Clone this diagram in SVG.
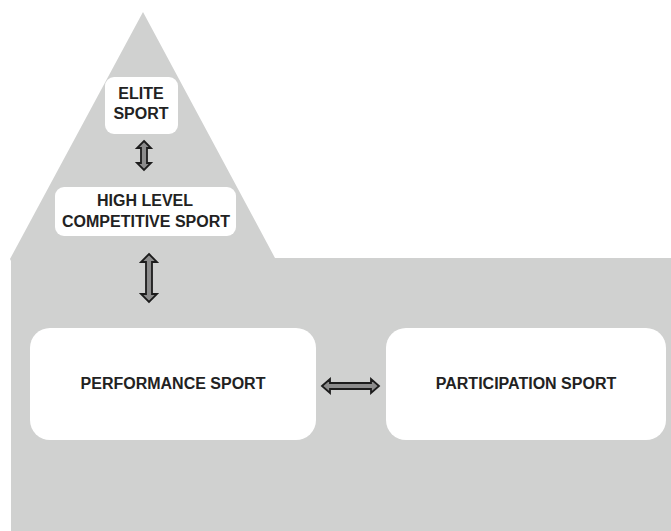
<svg xmlns="http://www.w3.org/2000/svg" width="671" height="531" viewBox="0 0 671 531">
<style>
.bg{fill:#d0d1d0}
.box{fill:#ffffff}
.t{font-family:"Liberation Sans",Arial,Helvetica,sans-serif;font-weight:bold;font-size:16px;fill:#222222;text-anchor:middle}
.arr{fill:#8c8c8c;stroke:#1c1c1c;stroke-width:1.8;stroke-linejoin:miter}
</style>
<rect width="671" height="531" fill="#ffffff"/>
<path class="bg" d="M143,12 L275,258 L671,258 L671,531 L11,531 L11,261 L10,259 Z"/>
<g id="elite">
<rect class="box" x="105" y="77" width="73" height="57" rx="9"/>
<text class="t" x="141" y="99">ELITE</text>
<text class="t" x="141" y="119">SPORT</text>
</g>
<g id="high">
<rect class="box" x="55" y="187" width="181" height="49" rx="9"/>
<text class="t" x="145" y="206">HIGH LEVEL</text>
<text class="t" x="146" y="227">COMPETITIVE SPORT</text>
</g>
<g id="performance">
<rect class="box" x="30" y="328" width="286" height="112" rx="20"/>
<text class="t" x="173" y="389">PERFORMANCE SPORT</text>
</g>
<g id="participation">
<rect class="box" x="386" y="328" width="280" height="112" rx="20"/>
<text class="t" x="526" y="389">PARTICIPATION SPORT</text>
</g>
<g id="connectors">
<path class="arr" d="M144,141 L151,148 L147,148 L147,163 L151,163 L144,170 L137,163 L141,163 L141,148 L137,148 Z"/>
<path class="arr" d="M149,254 L157,262 L152,262 L152,294 L157,294 L149,302 L141,294 L146,294 L146,262 L141,262 Z"/>
<path class="arr" d="M322,386 L330,379 L330,383 L371,383 L371,379 L379,386 L371,393 L371,389 L330,389 L330,393 Z"/>
</g>
</svg>
